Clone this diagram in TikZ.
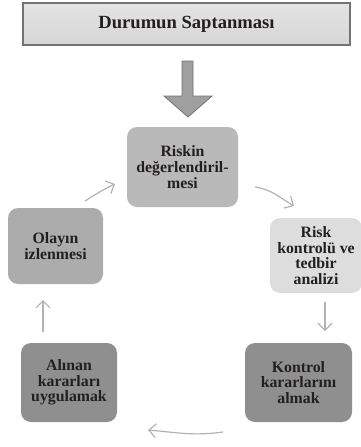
\documentclass[tikz,border=0pt]{standalone}
\usepackage{fontspec}
\setmainfont{Liberation Serif}
\usetikzlibrary{arrows.meta,shadings}
\definecolor{txt}{HTML}{231F20}
\definecolor{arr}{HTML}{B2B2B2}
\tikzset{
  stepbox/.style={rounded corners=10pt, align=center, text=txt,
    font=\fontsize{15.8}{15.6}\selectfont\bfseries, inner sep=0pt},
  conn/.style={draw=arr, line width=1.2pt, -{Straight Barb[length=7pt,width=14pt]}}
}
\begin{document}
\begin{tikzpicture}[x=1pt,y=-1pt]
\useasboundingbox (0,0) rectangle (361,447);
\node[draw=gray!90!black, line width=1.6pt, top color=gray!22, bottom color=gray!32,
  minimum width=327pt, minimum height=42pt, text=txt,
  font=\fontsize{18.6}{20}\selectfont\bfseries] (top) at (186.5,24) {Durumun Saptanması};
\filldraw[fill=gray!75, draw=gray!110, line width=0.8pt]
  (182,61) -- (193,61) -- (193,96) -- (212,96) -- (188,117) -- (164,96) -- (182,96) -- cycle;
\node[stepbox, fill=gray!55, minimum width=111pt, minimum height=80pt] (r1) at (182.5,167)
  {Riskin\\değerlendiril-\\mesi};
\node[stepbox, fill=gray!27, minimum width=92pt, minimum height=75pt] (r2) at (316,255.5)
  {Risk\\kontrolü ve\\tedbir\\analizi};
\node[stepbox, fill=gray!88, minimum width=107pt, minimum height=79pt] (r3) at (298.5,382.5)
  {Kontrol\\kararlarını\\almak};
\node[stepbox, fill=gray!88, minimum width=96pt, minimum height=79pt] (r4) at (69,382.5)
  {Alınan\\kararları\\uygulamak};
\node[stepbox, fill=gray!65, minimum width=95pt, minimum height=76pt] (r5) at (55.5,246)
  {Olayın\\izlenmesi};
\coordinate (a1) at (255,187); \coordinate (b1) at (294,206);
\coordinate (a2) at (325,302); \coordinate (b2) at (325,331);
\coordinate (a3) at (223,432); \coordinate (b3) at (148,430);
\coordinate (a4) at (43,332);  \coordinate (b4) at (43,300);
\coordinate (a5) at (85,201);  \coordinate (b5) at (115,184);
\draw[conn] (a1) to[out=-8, in=150] (b1);
\draw[conn] (a2) -- (b2);
\draw[conn] (a3) to[out=188, in=-5] (b3);
\draw[conn] (a4) -- (b4);
\draw[conn] (a5) to[out=32, in=205] (b5);
\end{tikzpicture}
\end{document}
